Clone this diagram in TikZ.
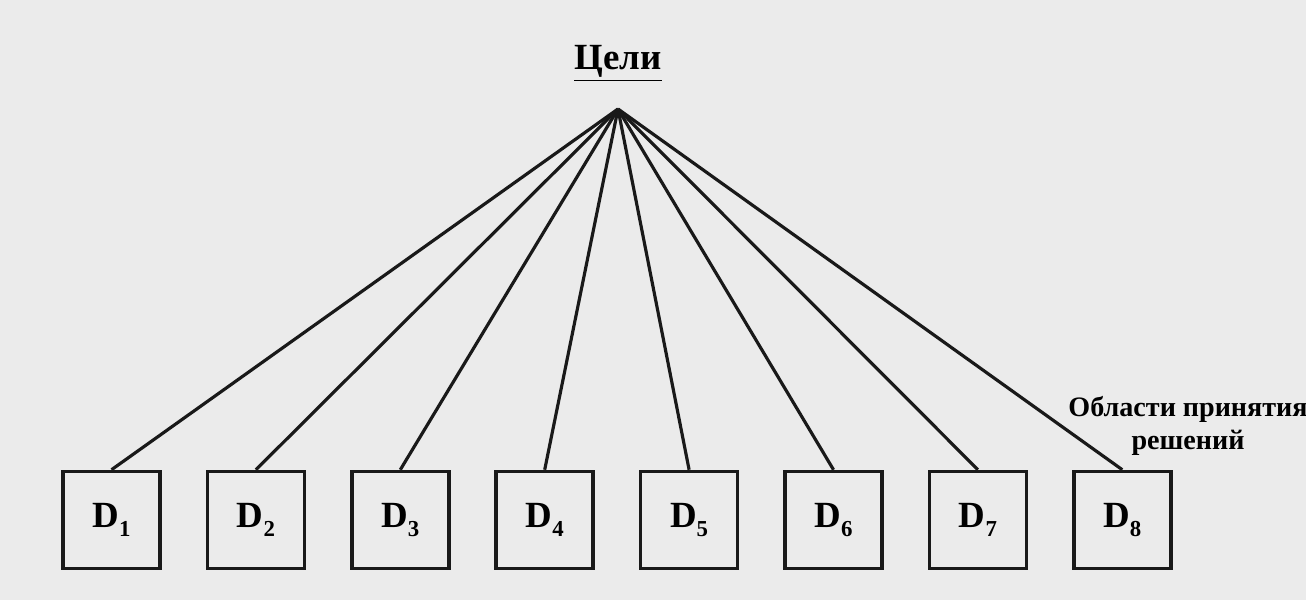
\documentclass[tikz,border=0pt]{standalone}
\usepackage{fontspec}
\setmainfont{Liberation Serif}
\usepackage[svgnames]{xcolor}
\usepackage{tkz-euclide}
\usepackage{tikz}

\newcommand{\dsub}[1]{\raisebox{-5pt}{\fontsize{13}{13}\selectfont #1}}

\tikzset{
  dbox/.style={draw=black!90, line width=2pt, minimum width=1.94cm,
    minimum height=1.94cm, inner sep=0pt, font=\fontsize{21}{21}\selectfont\bfseries},
  link/.style={draw=black!90, line width=1.8pt}
}

\begin{document}
\begin{tikzpicture}[x=1cm, y=1cm]
        \fill[black!8] (0,0) rectangle (26.12,12);
        \useasboundingbox (0,0) rectangle (26.12,12);

        \tkzDefPoint(12.36, 9.82){G}

        \node[anchor=base, inner sep=0pt, font=\fontsize{21}{21}\selectfont\bfseries]
            (goals) at (12.36, 10.6) {\underline{Цели}};

        \foreach \i in {1,...,8} {
            \node[dbox] (D_\i) at ({2.23+2.888*(\i-1)}, 1.6) {D\dsub{\i}};
            \draw[link] (G) -- (D_\i.north);
        }

        \node[align=center, inner sep=0pt, font=\fontsize{16}{18.7}\selectfont\bfseries]
            (areas) at (23.76, 3.48) {Области принятия\\решений};
    \end{tikzpicture}
\end{document}
